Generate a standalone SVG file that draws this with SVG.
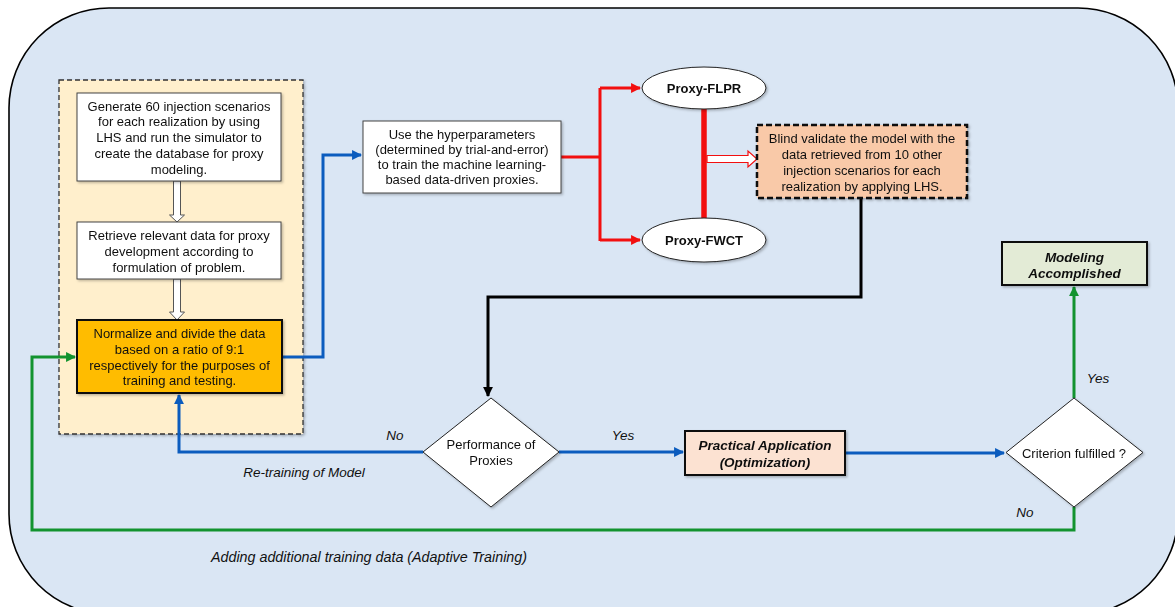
<svg xmlns="http://www.w3.org/2000/svg" width="1175" height="607" viewBox="0 0 1175 607">
<defs>
<style>
text{font-family:"Liberation Sans",Arial,sans-serif;font-size:13px;fill:#111;text-anchor:middle}
.b{font-weight:bold}
.bi{font-weight:bold;font-style:italic;font-size:13.5px}
.it{font-style:italic;font-size:13.5px}
.box{fill:#fff;stroke:#444;stroke-width:1}
.blue{fill:none;stroke:#0B5CBE;stroke-width:3}
.green{fill:none;stroke:#12932F;stroke-width:3}
.red{fill:none;stroke:#F20F0F;stroke-width:3}
.blk{fill:none;stroke:#000;stroke-width:3}
</style>
<marker id="ab" viewBox="0 0 10 10" refX="9" refY="5" markerWidth="3.3" markerHeight="3.3" orient="auto" markerUnits="strokeWidth"><path d="M0,0L10,5L0,10z" fill="#0B5CBE"/></marker>
<marker id="ag" viewBox="0 0 10 10" refX="9" refY="5" markerWidth="3.3" markerHeight="3.3" orient="auto" markerUnits="strokeWidth"><path d="M0,0L10,5L0,10z" fill="#12932F"/></marker>
<marker id="ar" viewBox="0 0 10 10" refX="9" refY="5" markerWidth="3.3" markerHeight="3.3" orient="auto" markerUnits="strokeWidth"><path d="M0,0L10,5L0,10z" fill="#F20F0F"/></marker>
<marker id="ak" viewBox="0 0 10 10" refX="9" refY="5" markerWidth="3.3" markerHeight="3.3" orient="auto" markerUnits="strokeWidth"><path d="M0,0L10,5L0,10z" fill="#000"/></marker>
<filter id="sh" x="-10%" y="-10%" width="130%" height="130%"><feDropShadow dx="1.5" dy="1.5" stdDeviation="1.2" flood-color="#000" flood-opacity="0.25"/></filter>
</defs>
<rect x="9" y="8" width="1169" height="606" rx="100" ry="100" fill="#DAE6F4" stroke="#000" stroke-width="1.6"/>

<g id="container">
<rect x="59" y="80" width="244" height="354" fill="#FFEFCC" stroke="#333" stroke-width="1.3" stroke-dasharray="5,3" filter="url(#sh)"/>
</g>

<g id="connectors">
<polygon points="173.5,181 180.5,181 180.5,215 184.5,215 177,222 169.5,215 173.5,215" fill="#fff" stroke="#555" stroke-width="1"/>
<polygon points="173.5,279 180.5,279 180.5,312 184.5,312 177,320 169.5,312 173.5,312" fill="#fff" stroke="#555" stroke-width="1"/>
<polyline class="blue" points="282,357 323,357 323,155 361,155" marker-end="url(#ab)"/>
<polyline class="red" points="561,157 600,157"/>
<polyline class="red" points="600,88 600,241"/>
<line class="red" x1="600" y1="88" x2="640" y2="88" marker-end="url(#ar)"/>
<line class="red" x1="600" y1="240" x2="640" y2="240" marker-end="url(#ar)"/>
<line x1="704" y1="109" x2="704" y2="219" stroke="#F20F0F" stroke-width="5.5"/>
<polygon points="707,155.5 748,155.5 748,151 757,159 748,167 748,162.5 707,162.5" fill="#fff" stroke="#F20F0F" stroke-width="1.2"/>
<polyline class="blk" points="861,198 861,297 488,297 488,396" marker-end="url(#ak)"/>
<polyline class="blue" points="423,452 179,452 179,395" marker-end="url(#ab)"/>
<line class="blue" x1="559" y1="452" x2="683" y2="452" marker-end="url(#ab)"/>
<line class="blue" x1="846" y1="453" x2="1004" y2="453" marker-end="url(#ab)"/>
<line class="green" x1="1074" y1="398" x2="1074" y2="287" marker-end="url(#ag)"/>
<polyline class="green" points="1074,507 1074,530 32,530 32,357 75,357" marker-end="url(#ag)"/>
</g>

<g id="labels">
<text class="it" x="395" y="440">No</text>
<text class="it" x="623" y="440">Yes</text>
<text class="it" x="1098" y="383">Yes</text>
<text class="it" x="1025" y="517">No</text>
<text class="it" x="304" y="477">Re-training of Model</text>
<text class="it" x="369" y="562" style="font-size:14.3px">Adding additional training data (Adaptive Training)</text>
</g>

<g id="gen" filter="url(#sh)">
<rect class="box" x="77" y="93" width="204" height="88"/>
<text x="179" y="110.5">Generate 60 injection scenarios</text>
<text x="179" y="126.3">for each realization by using</text>
<text x="179" y="142">LHS and run the simulator to</text>
<text x="179" y="157.8">create the database for proxy</text>
<text x="179" y="173.5">modeling.</text>
</g>

<g id="retrieve" filter="url(#sh)">
<rect class="box" x="77" y="222" width="204" height="57"/>
<text x="179" y="240">Retrieve relevant data for proxy</text>
<text x="179" y="256">development according to</text>
<text x="179" y="272">formulation of problem.</text>
</g>

<g id="normalize" filter="url(#sh)">
<rect x="77" y="320" width="205" height="73" fill="#FFBC00" stroke="#111" stroke-width="2"/>
<text x="179.5" y="338">Normalize and divide the data</text>
<text x="179.5" y="354">based on a ratio of 9:1</text>
<text x="179.5" y="369.5">respectively for the purposes of</text>
<text x="179.5" y="385">training and testing.</text>
</g>

<g id="hyper" filter="url(#sh)">
<rect class="box" x="363" y="121" width="198" height="72"/>
<text x="462" y="139">Use the hyperparameters</text>
<text x="462" y="154">(determined by trial-and-error)</text>
<text x="462" y="169">to train the machine learning-</text>
<text x="462" y="184">based data-driven proxies.</text>
</g>

<g id="flpr" filter="url(#sh)">
<ellipse cx="704" cy="88" rx="62" ry="21" fill="#fff" stroke="#222" stroke-width="1"/>
<text class="b" x="704" y="92.5">Proxy-FLPR</text>
</g>

<g id="fwct" filter="url(#sh)">
<ellipse cx="704" cy="240" rx="62" ry="22" fill="#fff" stroke="#222" stroke-width="1"/>
<text class="b" x="704" y="244.5">Proxy-FWCT</text>
</g>

<g id="blind" filter="url(#sh)">
<rect x="757" y="125" width="210" height="73" fill="#F9C9A8" stroke="#111" stroke-width="2.5" stroke-dasharray="6,3"/>
<text x="862" y="142.5">Blind validate the model with the</text>
<text x="862" y="158.5">data retrieved from 10 other</text>
<text x="862" y="174.5">injection scenarios for each</text>
<text x="862" y="190.5">realization by applying LHS.</text>
</g>

<g id="performance" filter="url(#sh)">
<polygon points="491,398 559,452 491,507 423,452" fill="#fff" stroke="#222" stroke-width="1"/>
<text x="491" y="449">Performance of</text>
<text x="491" y="465">Proxies</text>
</g>

<g id="practical" filter="url(#sh)">
<rect x="685" y="431" width="160" height="44" fill="#FCE2D2" stroke="#111" stroke-width="2"/>
<text class="bi" x="765" y="450">Practical Application</text>
<text class="bi" x="765" y="467">(Optimization)</text>
</g>

<g id="criterion" filter="url(#sh)">
<polygon points="1074,398 1143,452.5 1074,507 1006,452.5" fill="#fff" stroke="#222" stroke-width="1"/>
<text x="1074" y="458">Criterion fulfilled ?</text>
</g>

<g id="accomplished" filter="url(#sh)">
<rect x="1002" y="242" width="145" height="43" fill="#E3EBD6" stroke="#111" stroke-width="2"/>
<text class="bi" x="1074.5" y="262">Modeling</text>
<text class="bi" x="1074.5" y="278">Accomplished</text>
</g>
</svg>
